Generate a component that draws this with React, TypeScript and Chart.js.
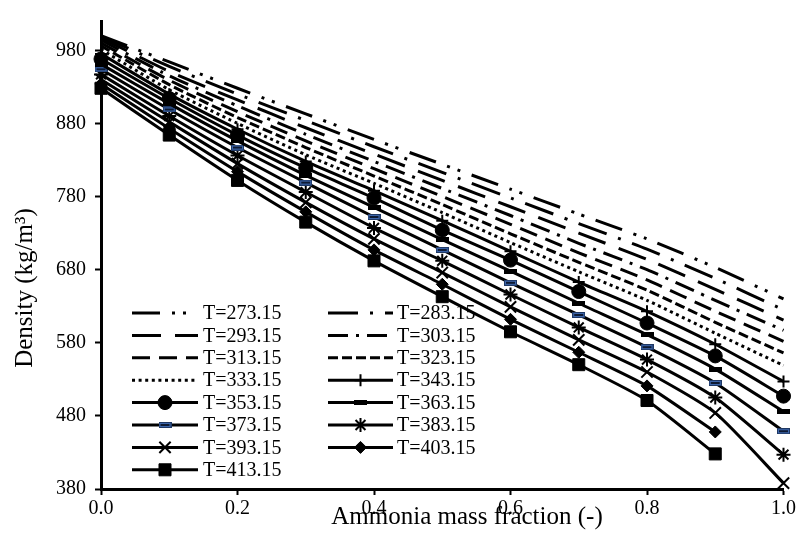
import React, { useEffect, useRef } from 'react';
import { Chart, registerables } from 'chart.js';
import { drawPoint } from 'chart.js/helpers';

Chart.register(...registerables);

// ---- data ----
const massFraction = [0, 0.1, 0.2, 0.3, 0.4, 0.5, 0.6, 0.7, 0.8, 0.9, 1.0];
const temperatures = ['273.15', '283.15', '293.15', '303.15', '313.15', '323.15', '333.15', '343.15', '353.15', '363.15', '373.15', '383.15', '393.15', '403.15', '413.15'];

const rho273 = [1000, 964, 928, 893, 858, 824, 790, 756, 722, 683, 640];
const rho283 = [999, 958, 920, 884, 848, 813, 778, 743, 708, 668, 625];
const rho293 = [997, 951, 912, 874, 838, 802, 766, 730, 694, 653, 611];
const rho303 = [994, 945, 904, 865, 828, 791, 754, 716, 680, 638, 597];
const rho313 = [990, 939, 896, 856, 818, 780, 742, 703, 666, 623, 582];
const rho323 = [986, 933, 888, 847, 808, 769, 729, 690, 652, 608, 566];
const rho333 = [981, 926, 880, 837, 798, 758, 717, 677, 638, 593, 549];
const rho343 = [975, 920, 872, 828, 788, 747, 705, 663, 623, 578, 527];
const rho353 = [968, 914, 864, 819, 778, 734, 693, 650, 607, 562, 507];
const rho363 = [961, 907, 856, 809, 765, 721, 678, 634, 591, 544, 486];
const rho373 = [954, 899, 847, 799, 752, 707, 662, 618, 574, 525, 459];
const rho383 = [947, 890, 836, 786, 737, 692, 646, 601, 557, 505, 427];
const rho393 = [940, 882, 825, 772, 722, 676, 629, 584, 540, 484, 388];
const rho403 = [934, 873, 814, 759, 707, 660, 612, 567, 521, 458];
const rho413 = [928, 864, 802, 745, 692, 643, 595, 550, 501, 428];

const seriesValues = [rho273, rho283, rho293, rho303, rho313, rho323, rho333, rho343, rho353, rho363, rho373, rho383, rho393, rho403, rho413];

const xTickValues = [0, 0.2, 0.4, 0.6, 0.8, 1.0];
const yTickValues = [380, 480, 580, 680, 780, 880, 980];

const xTitle = 'Ammonia mass fraction (-)';
const yTitle = 'Density (kg/m³)';

const SERIF = '"Liberation Serif", "Times New Roman", serif';

function makeBarMarker(fill: string, border: string, mid: string | null, w: number, h: number) {
  const c = document.createElement('canvas');
  c.width = w;
  c.height = h;
  const g = c.getContext('2d')!;
  g.fillStyle = border;
  g.fillRect(0, 0, w, h);
  g.fillStyle = fill;
  g.fillRect(1, 1, w - 2, h - 2);
  if (mid) {
    g.fillStyle = mid;
    g.fillRect(2, Math.floor(h / 2) - 1, w - 4, 2);
  }
  return c;
}

type Sty = { dash: number[]; style?: any; radius?: number; bw?: number };

function seriesStyles(): Sty[] {
  const blackBar = makeBarMarker('#000', '#000', null, 13, 5);
  const blueBar = makeBarMarker('#3d66ab', '#1f3864', '#0d1a33', 13, 6);
  return [
    { dash: [28, 12, 3, 8, 3, 12] },
    { dash: [30, 12, 3, 12] },
    { dash: [29, 14] },
    { dash: [20, 8, 3, 8] },
    { dash: [18, 9] },
    { dash: [10, 4] },
    { dash: [3, 3.6] },
    { dash: [], style: 'cross', radius: 6, bw: 2 },
    { dash: [], style: 'circle', radius: 7, bw: 1 },
    { dash: [], style: blackBar, radius: 6, bw: 1 },
    { dash: [], style: blueBar, radius: 6, bw: 1 },
    { dash: [], style: 'star', radius: 7, bw: 2 },
    { dash: [], style: 'crossRot', radius: 8, bw: 2 },
    { dash: [], style: 'rectRot', radius: 6, bw: 1 },
    { dash: [], style: 'rect', radius: 8.5, bw: 1 },
  ];
}

const legendPlugin = {
  id: 'inlineLegend',
  afterDraw(chart: any) {
    const ctx: CanvasRenderingContext2D = chart.ctx;
    const sty: Sty[] = chart.options.plugins.inlineLegend.styles;
    chart.data.datasets.forEach((ds: any, i: number) => {
      const col = i % 2;
      const row = Math.floor(i / 2);
      const x1 = col === 0 ? 132 : 328;
      const x2 = col === 0 ? 198 : 393;
      const tx = col === 0 ? 203 : 397;
      const y = 313 + row * 22.4;
      const s = sty[i];
      ctx.save();
      ctx.strokeStyle = '#000';
      ctx.lineWidth = 3;
      ctx.lineCap = 'butt';
      ctx.setLineDash(s.dash);
      ctx.beginPath();
      ctx.moveTo(x1, y);
      ctx.lineTo(x2, y);
      ctx.stroke();
      ctx.setLineDash([]);
      if (s.style) {
        ctx.fillStyle = '#000';
        ctx.strokeStyle = '#000';
        ctx.lineWidth = s.bw || 1;
        drawPoint(ctx, { pointStyle: s.style, radius: s.radius, borderWidth: s.bw, rotation: 0 } as any, (x1 + x2) / 2, y);
      }
      ctx.fillStyle = '#000';
      ctx.font = `20px ${SERIF}`;
      ctx.textBaseline = 'middle';
      ctx.textAlign = 'left';
      ctx.fillText(ds.label, tx, y + 1);
      ctx.restore();
    });
  },
};

const titlesPlugin = {
  id: 'axisTitles',
  afterDraw(chart: any) {
    const ctx: CanvasRenderingContext2D = chart.ctx;
    ctx.save();
    ctx.fillStyle = '#000';
    ctx.font = `25px ${SERIF}`;
    ctx.textAlign = 'center';
    ctx.textBaseline = 'alphabetic';
    ctx.fillText(xTitle, 467, 524);
    ctx.translate(32, 288);
    ctx.rotate(-Math.PI / 2);
    ctx.fillText(yTitle, 0, 0);
    ctx.restore();
  },
};

export default function App() {
  const ref = useRef<HTMLCanvasElement | null>(null);
  useEffect(() => {
    if (!ref.current) return;
    const sty = seriesStyles();
    const datasets = seriesValues.map((vals, i) => {
      const s = sty[i];
      return {
        label: 'T=' + temperatures[i],
        data: vals.map((v, j) => ({ x: massFraction[j], y: v })),
        borderColor: '#000',
        backgroundColor: '#000',
        borderWidth: 3,
        borderDash: s.dash,
        borderCapStyle: 'butt',
        tension: 0.2,
        clip: false,
        pointRadius: s.style ? s.radius : 0,
        pointHoverRadius: s.style ? s.radius : 0,
        pointStyle: s.style || 'circle',
        pointBackgroundColor: '#000',
        pointBorderColor: '#000',
        pointBorderWidth: s.bw || 1,
      };
    });
    const chart = new Chart(ref.current, {
      type: 'line',
      data: { datasets } as any,
      plugins: [legendPlugin, titlesPlugin],
      options: {
        animation: false,
        responsive: false,
        devicePixelRatio: 1,
        layout: { padding: { left: 0, right: 14, top: 12, bottom: 0 } },
        plugins: {
          legend: { display: false },
          tooltip: { enabled: false },
          inlineLegend: { styles: sty },
        } as any,
        scales: {
          x: {
            type: 'linear',
            min: 0,
            max: 1,
            afterBuildTicks: (s: any) => {
              s.ticks = xTickValues.map((v) => ({ value: v }));
            },
            afterFit: (s: any) => {
              s.height = 46;
            },
            ticks: {
              callback: (v: any) => Number(v).toFixed(1),
              color: '#000',
              font: { family: SERIF, size: 20 },
              padding: 2,
              maxRotation: 0,
              autoSkip: false,
            },
            grid: { drawOnChartArea: false, drawTicks: true, tickLength: 6, tickWidth: 2, tickColor: '#000' },
            border: { color: '#000', width: 3 },
          },
          y: {
            type: 'linear',
            min: 380,
            max: 1020,
            afterBuildTicks: (s: any) => {
              s.ticks = yTickValues.map((v) => ({ value: v }));
            },
            afterFit: (s: any) => {
              s.width = 101;
            },
            ticks: {
              color: '#000',
              font: { family: SERIF, size: 20 },
              padding: 9,
            },
            grid: { drawOnChartArea: false, drawTicks: true, tickLength: 6, tickWidth: 2, tickColor: '#000' },
            border: { color: '#000', width: 3 },
          },
        },
      } as any,
    });
    return () => chart.destroy();
  }, []);
  return (
    <div style={{ position: 'absolute', left: 0, top: 0, width: 798, height: 535, background: '#fff' }}>
      <canvas ref={ref} width={798} height={535} style={{ display: 'block', width: 798, height: 535 }} />
    </div>
  );
}
